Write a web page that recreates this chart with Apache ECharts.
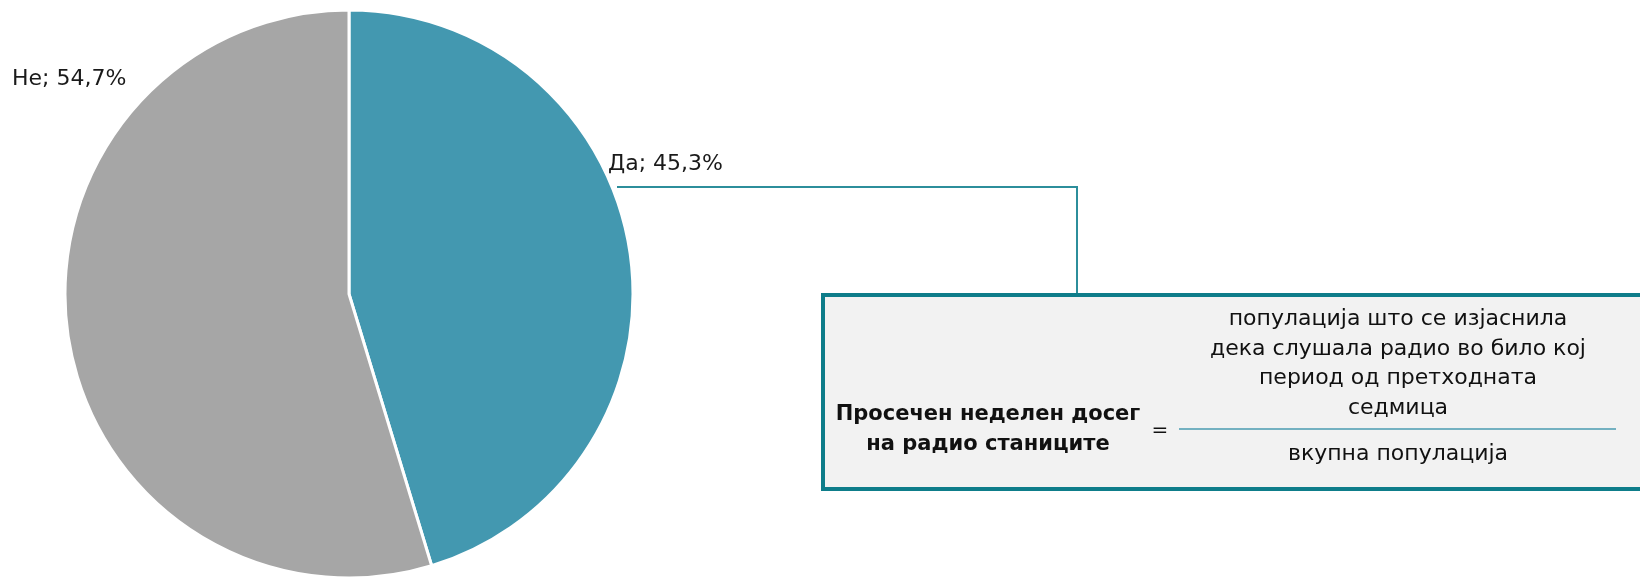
<!DOCTYPE html>
<html>
<head>
<meta charset="utf-8">
<title>Неделен досег на радио</title>
<script src="https://cdn.jsdelivr.net/npm/echarts@6/dist/echarts.min.js"></script>
<style>
  html, body { margin: 0; padding: 0; background: #fff; }
  #chart { width: 1640px; height: 577px; }
</style>
</head>
<body>
<div id="chart"></div>
<script>
// data
const categories = ['Да', 'Не']
const shares = [45.3, 54.7]
const sliceColors = ['#4398B0', '#A6A6A6']

// formula box text
const formulaLeft = ['Просечен неделен досег', 'на радио станиците']
const numeratorLines = ['популација што се изјаснила', 'дека слушала радио во било кој', 'период од претходната', 'седмица']
const denominator = 'вкупна популација'

const fontFamily = 'DejaVu Sans'
const teal = '#0E7D8A'

const chart = echarts.init(document.getElementById('chart'))

// label spots for the two slices
const labelSpots = [
  { x: 608, y: 164, align: 'left', verticalAlign: 'middle' },
  { x: 12, y: 79, align: 'left', verticalAlign: 'middle' }
]

chart.setOption({
  animation: false,
  series: [{
    type: 'pie',
    center: [349, 294],
    radius: [0, 284],
    startAngle: 90,
    clockwise: true,
    data: categories.map((name, i) => ({
      name: name,
      value: shares[i],
      itemStyle: { color: sliceColors[i] }
    })),
    itemStyle: { borderColor: '#fff', borderWidth: 3 },
    label: {
      show: true,
      position: 'inside',
      formatter: p => p.name + '; ' + p.value.toFixed(1).replace('.', ',') + '%',
      color: '#1a1a1a',
      fontFamily: fontFamily,
      fontSize: 22
    },
    labelLine: { show: false },
    labelLayout: p => labelSpots[p.dataIndex],
    emphasis: { disabled: true }
  }],
  graphic: [
    {
      type: 'polyline',
      shape: { points: [[617, 187], [1077, 187], [1077, 294]] },
      style: { stroke: '#2C8E9B', lineWidth: 2, fill: null }
    },
    {
      type: 'rect',
      shape: { x: 823, y: 295, width: 830, height: 194 },
      style: { fill: '#F2F2F2', stroke: teal, lineWidth: 4 }
    },
    {
      type: 'text',
      x: 988, y: 430,
      style: {
        text: formulaLeft.join('\n'),
        font: 'bold 21px "' + fontFamily + '"',
        fill: '#111',
        align: 'center',
        verticalAlign: 'middle',
        lineHeight: 30
      }
    },
    {
      type: 'text',
      x: 1160, y: 431,
      style: { text: '=', font: '20px "' + fontFamily + '"', fill: '#111', align: 'center', verticalAlign: 'middle' }
    },
    {
      type: 'line',
      shape: { x1: 1179, y1: 429, x2: 1616, y2: 429 },
      style: { stroke: '#4A9BB0', lineWidth: 1.5 }
    },
    {
      type: 'text',
      x: 1398, y: 364,
      style: {
        text: numeratorLines.join('\n'),
        font: '22px "' + fontFamily + '"',
        fill: '#111',
        align: 'center',
        verticalAlign: 'middle',
        lineHeight: 29.5
      }
    },
    {
      type: 'text',
      x: 1398, y: 454,
      style: { text: denominator, font: '22px "' + fontFamily + '"', fill: '#111', align: 'center', verticalAlign: 'middle' }
    }
  ]
})
</script>
</body>
</html>
